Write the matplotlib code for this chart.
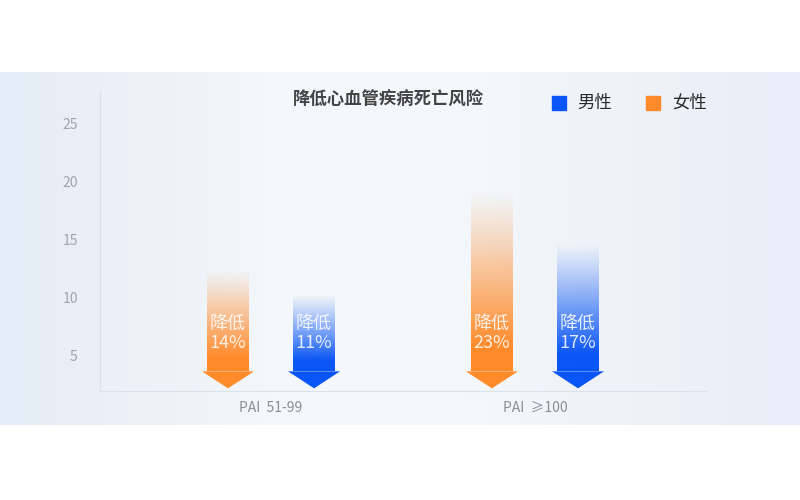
import matplotlib
matplotlib.use("Agg")
import matplotlib.pyplot as plt
import numpy as np
from matplotlib.colors import to_rgb
from matplotlib.patches import Polygon

plt.rcParams["font.family"] = ["Noto Sans CJK SC", "DejaVu Sans"]

categories = ["PAI  51-99", "PAI  ≥100"]
women = [14, 23]
men = [11, 17]
series_names = ["男性", "女性"]
title = "降低心血管疾病死亡风险"
yticks = [5, 10, 15, 20, 25]

blue = "#0a55f5"
orange = "#ff8a2a"

fig = plt.figure(figsize=(8, 5), dpi=100)

# light panel with soft horizontal gradient
bg = fig.add_axes([0, 0.15, 1, 0.706])
left_c = np.array(to_rgb("#e4ecf5"))
mid_c = np.array(to_rgb("#f4f7fb"))
right_c = np.array(to_rgb("#e8eef7"))
t = np.linspace(0, 1, 400)
w = np.where(t < 0.45, t / 0.45, (1 - t) / 0.55)[:, None]
w = np.clip(w * 1.3, 0, 1)
edge = np.where(t[:, None] < 0.45, left_c, right_c)
row = edge * (1 - w) + mid_c * w
bg.imshow(row[None, :, :], aspect="auto", extent=[0, 1, 0, 1])
bg.axis("off")

ax = fig.add_axes([0.125, 0.218, 0.7575, 0.6])
ax.set_facecolor("none")
ax.set_xlim(-0.648, 1.648)
ax.set_ylim(1.97, 27.77)

base = 2.2
head_h = 1.46
scale = 0.73
offset = 0.163
shaft_w = 0.159
head_w = 0.197


def arrow(x, value, color):
    top = base + value * scale
    rgb = to_rgb(color)
    n = 200
    img = np.zeros((n, 1, 4))
    img[:, 0, :3] = rgb
    a = np.linspace(0, 1, n)
    img[:, 0, 3] = np.clip(a * 1.15, 0, 1) ** 1.1
    ax.imshow(img, aspect="auto", origin="upper",
              extent=[x - shaft_w / 2, x + shaft_w / 2, base + head_h, top],
              interpolation="bilinear", zorder=2)
    ax.add_patch(Polygon([[x - head_w / 2, base + head_h],
                          [x + head_w / 2, base + head_h],
                          [x, base]], closed=True, color=color, lw=0, zorder=2))
    ax.text(x, 6.9, f"降低\n{value}%", ha="center", va="center",
            color="white", alpha=0.85, fontsize=13, linespacing=1.05, zorder=3)


for i in range(len(categories)):
    arrow(i - offset, women[i], orange)
    arrow(i + offset, men[i], blue)

ax.set_xticks(range(len(categories)))
ax.set_xticklabels(categories, color="#8a8f97", fontsize=10)
ax.set_yticks(yticks)
ax.set_yticklabels([str(v) for v in yticks], color="#a0a4aa", fontsize=10)
ax.tick_params(axis="both", length=0)
ax.tick_params(axis="y", pad=16)
ax.tick_params(axis="x", pad=7)
for s in ["top", "right"]:
    ax.spines[s].set_visible(False)
ax.spines["left"].set_color("#dce2ea")
ax.spines["bottom"].set_color("#dce2ea")

fig.text(388 / 800, 1 - 100 / 500, title, ha="center", va="center",
         fontsize=12.5, color="#444444", fontweight="bold")

# legend
for xs, xt, c, name in [(551.7, 577.7, blue, series_names[0]),
                        (645.7, 672.7, orange, series_names[1])]:
    fig.patches.append(plt.Rectangle((xs / 800, 1 - 110 / 500), 14 / 800, 14 / 500,
                                     transform=fig.transFigure, color=c, figure=fig))
    fig.text(xt / 800, 1 - 103 / 500, name, ha="left", va="center",
             fontsize=12.5, color="#2a2a2a")

fig.savefig("out.png", dpi=100, facecolor="white")
